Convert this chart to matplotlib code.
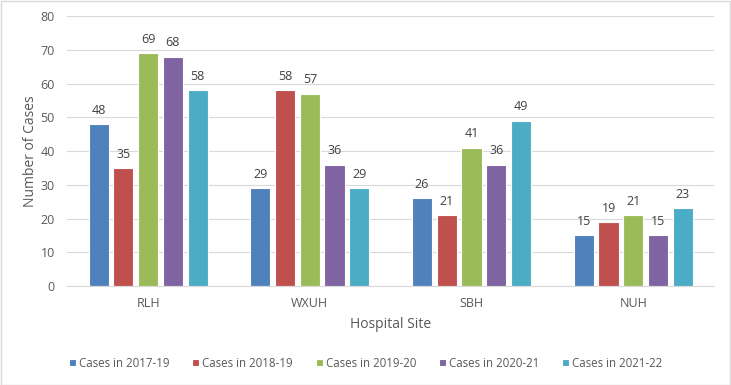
import numpy as np
import matplotlib.pyplot as plt
from matplotlib.patches import Rectangle

# datos del grafico
sites = ['RLH', 'WXUH', 'SBH', 'NUH']
series_names = ['Cases in 2017-19', 'Cases in 2018-19', 'Cases in 2019-20',
                'Cases in 2020-21', 'Cases in 2021-22']
cases_2017 = [48, 29, 26, 15]
cases_2018 = [35, 58, 21, 19]
cases_2019 = [69, 57, 41, 21]
cases_2020 = [68, 36, 36, 15]
cases_2021 = [58, 29, 49, 23]
colors = ['#4F81BD', '#C0504D', '#9BBB59', '#8064A2', '#4BACC6']

all_series = [cases_2017, cases_2018, cases_2019, cases_2020, cases_2021]
text_color = '#595959'

plt.rcParams['font.family'] = ['Open Sans', 'DejaVu Sans']

fig = plt.figure(figsize=(7.31, 3.85), dpi=100)
ax = fig.add_axes([0.092, 0.257, 0.885, 0.701])

x = np.arange(len(sites))
step = 0.153
width = 0.125
for i, (vals, name, col) in enumerate(zip(all_series, series_names, colors)):
    pos = x + (i - 2) * step
    bars = ax.bar(pos, vals, width=width, color=col, edgecolor='white',
                  linewidth=0.8, label=name, zorder=2)
    for b, v in zip(bars, vals):
        ax.text(b.get_x() + b.get_width() / 2, v + 2.2, str(v),
                ha='center', va='bottom', fontsize=9, color='#404040')

ax.set_xlim(-0.5, 3.5)
ax.set_ylim(0, 80)
ax.set_yticks(range(0, 81, 10))
ax.set_xticks(x)
ax.set_xticklabels(sites)
ax.grid(axis='y', color='#D9D9D9', linewidth=0.8, zorder=0)
for s in ['top', 'right', 'left']:
    ax.spines[s].set_visible(False)
ax.spines['bottom'].set_color('#D9D9D9')
ax.tick_params(axis='both', length=0, colors=text_color, labelsize=9)
ax.tick_params(axis='x', pad=8)
ax.tick_params(axis='y', pad=9)
ax.set_xlabel('Hospital Site', fontsize=10, color=text_color, labelpad=5)
ax.set_ylabel('Number of Cases', fontsize=10, color=text_color, labelpad=2)

leg = fig.legend(loc='center', bbox_to_anchor=(0.5, 0.057), ncol=5,
                 frameon=False, fontsize=8.3, handlelength=0.6, handleheight=0.6,
                 handletextpad=0.25, columnspacing=2.0)
for t in leg.get_texts():
    t.set_color(text_color)

# borde de la figura
fig.patches.append(Rectangle((0.001, 0.001), 0.997, 0.996, transform=fig.transFigure,
                             fill=False, edgecolor='#D9D9D9', linewidth=1))

fig.savefig('out.png', dpi=100)
